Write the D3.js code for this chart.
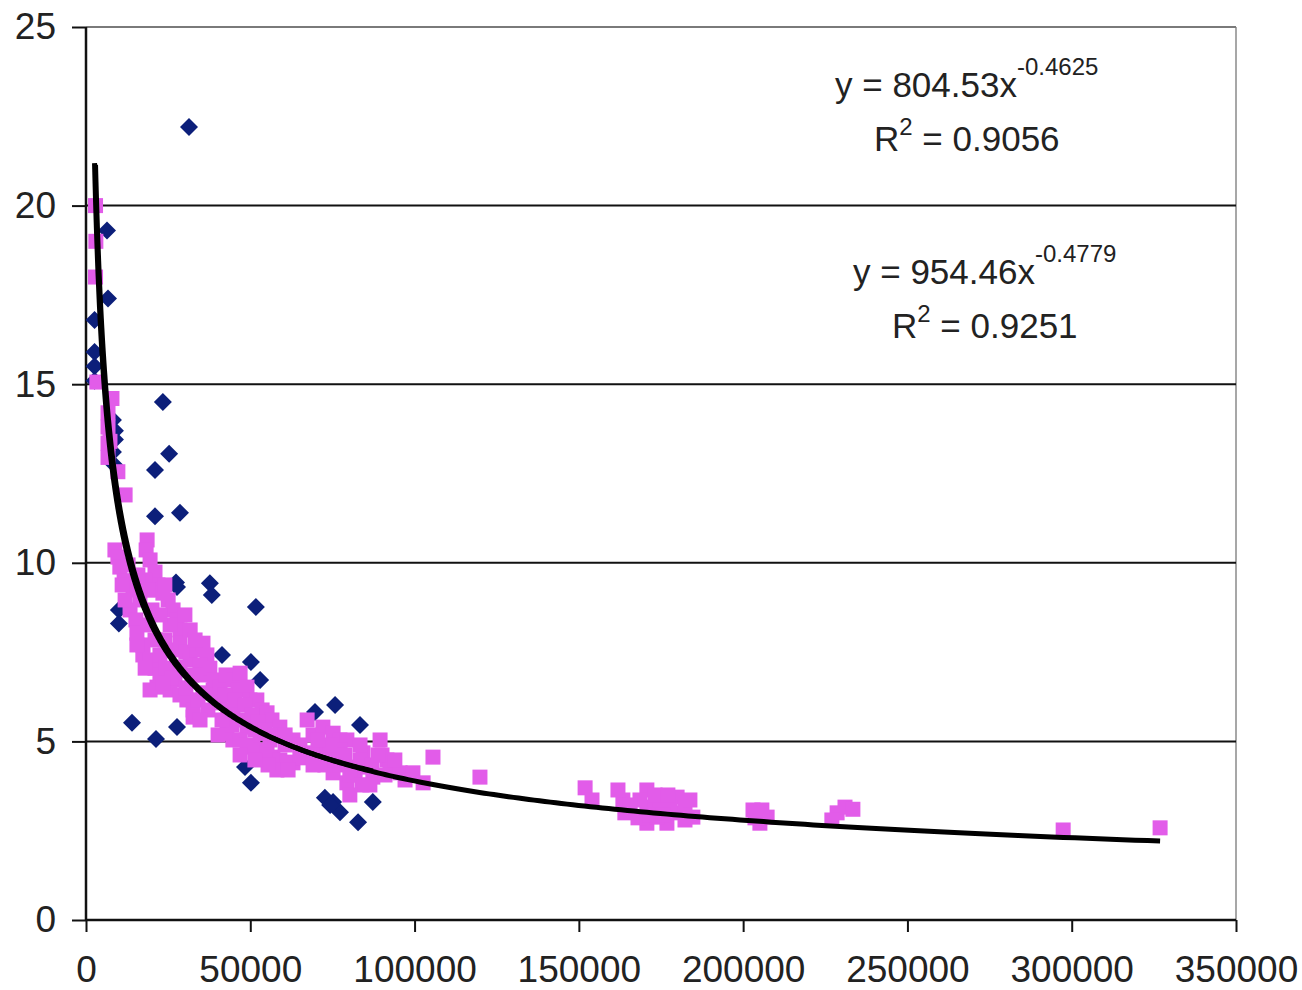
<!DOCTYPE html>
<html lang="en">
<head>
<meta charset="UTF-8">
<title>Power trend scatter</title>
<script src="https://cdn.jsdelivr.net/npm/d3@7"></script>
<style>
  body { margin: 0; background: #fff; }
  text { font-family: "Liberation Sans", Arial, sans-serif; fill: #222; }
</style>
</head>
<body>
<div id="chart"></div>
<script>
// series 1 (blue diamonds): [x, y]
const blueSeries = [
  [31350, 22.2], [6400, 19.3], [6700, 17.4], [2600, 16.8], [2600, 15.9], [2600, 15.5], [2600, 15.1],
  [8200, 14.0], [8800, 13.7], [8800, 13.45], [8200, 13.1], [8500, 12.75],
  [23400, 14.5], [25300, 13.05], [21000, 12.6], [21000, 11.3], [28600, 11.4],
  [27400, 9.45], [27700, 9.32], [37700, 9.43], [38300, 9.1], [51700, 8.76],
  [10000, 8.68], [10000, 8.3], [41400, 7.42], [50200, 7.22], [53000, 6.72],
  [14000, 5.52], [21300, 5.07], [27700, 5.4], [69700, 5.82], [75800, 6.02], [83400, 5.46],
  [48400, 4.28], [50200, 3.84], [72700, 3.42], [75200, 3.3], [77300, 3.02], [74300, 3.22],
  [87300, 3.3], [82800, 2.74]
];

// series 2 (magenta squares): [x, y]
const magentaSeries = [
  [2900, 20.0], [3000, 19.0], [2900, 18.0], [3300, 15.06], [7900, 14.6], [6700, 14.2], [6700, 13.8],
  [6700, 13.35], [6700, 12.95], [7300, 13.4], [9700, 12.55], [11900, 11.9],
  [8800, 10.36], [9700, 10.16], [10300, 9.88], [11600, 9.5], [18600, 10.64], [18300, 10.36],
  [19500, 10.08], [21000, 9.74], [21900, 9.38], [20100, 9.24], [18000, 9.52], [16400, 8.96],
  [13400, 8.68], [15200, 8.4], [15500, 8.03], [17300, 7.7], [17300, 7.42], [19500, 7.28],
  [21000, 7.05], [22500, 6.86], [21600, 6.52], [19500, 6.44], [23400, 9.15], [25000, 8.96],
  [26500, 8.68], [27700, 8.4], [28600, 8.12], [25600, 8.26], [22500, 8.54], [24000, 7.84],
  [26200, 7.56], [28600, 7.75], [30400, 7.5], [31700, 7.28], [33800, 7.56], [35600, 7.75],
  [36800, 7.42], [34700, 7.14], [34700, 6.86], [28600, 7.08], [27100, 6.72], [25600, 6.44],
  [28600, 6.3], [30700, 6.16], [32600, 5.88], [32600, 5.68], [35600, 6.36], [34100, 6.16],
  [12800, 9.94], [14300, 9.24], [15800, 9.66], [18900, 9.24], [20100, 8.68], [18900, 8.26],
  [21000, 7.84], [22500, 7.42], [24300, 7.05], [26200, 6.78], [30400, 6.5], [32300, 6.86],
  [37700, 7.05], [38700, 6.44], [37100, 5.88], [34700, 5.6], [23400, 6.63], [18000, 7.05],
  [15500, 7.7], [11900, 8.96], [11000, 9.38], [24000, 9.38], [30100, 8.54], [31700, 8.12],
  [33200, 7.84],
  [39000, 6.72], [40800, 6.52], [42600, 6.86], [44700, 6.72], [46900, 6.91], [46300, 6.44],
  [49000, 6.52], [49900, 6.16], [52000, 6.16], [53600, 5.88], [55100, 5.8], [56600, 5.6],
  [59000, 5.4], [40800, 6.08], [43200, 5.88], [44700, 5.8], [46900, 5.6], [49000, 5.4],
  [51400, 5.32], [42900, 5.23], [44700, 5.04], [46900, 5.04], [49000, 4.9], [50800, 4.84],
  [53000, 4.76], [55100, 4.68], [56900, 4.56], [59000, 4.48], [61200, 4.42], [63000, 4.4],
  [56000, 5.04], [60600, 4.9], [63000, 5.04], [58100, 4.2], [53000, 5.23],
  [42300, 6.3], [45300, 6.16], [48400, 6.02], [50500, 5.74], [52300, 5.54], [54500, 5.32],
  [57500, 5.18], [60600, 5.18], [65100, 4.9], [65100, 4.54], [61500, 4.2], [55400, 4.34],
  [51400, 4.48], [46900, 4.62], [44400, 5.46], [41400, 5.6], [40200, 5.18],
  [67300, 5.6], [69100, 5.18], [72100, 5.4], [75200, 5.23], [77300, 5.04], [79400, 5.04],
  [69100, 4.68], [71200, 4.4], [73300, 4.68], [75200, 4.12], [77300, 4.76], [77300, 4.34],
  [79400, 3.84], [81300, 4.28], [84300, 4.68], [85500, 4.28], [87300, 4.0], [89500, 5.04],
  [90100, 4.62], [91600, 4.48], [92500, 4.2], [95600, 4.12], [99500, 4.12], [102600, 3.84],
  [105600, 4.56], [119900, 4.0], [83400, 4.9], [74300, 4.9], [81900, 4.06], [86400, 3.78],
  [70600, 5.04], [72700, 4.34], [75800, 4.48], [78800, 4.62], [80300, 4.06], [83400, 4.48],
  [84000, 3.78], [87000, 4.34], [88900, 4.62], [91000, 4.06], [94000, 4.48], [97100, 3.92],
  [80300, 3.5], [69100, 4.34],
  [151900, 3.7], [154000, 3.36], [163400, 3.36], [164000, 3.0], [170700, 3.64], [170700, 3.16],
  [170700, 2.71], [174700, 3.28], [176800, 2.71], [179900, 3.44], [179900, 3.0], [173800, 2.88],
  [184700, 2.88], [168600, 3.36], [173200, 3.5], [177700, 3.14], [182300, 3.14],
  [161900, 3.64], [165600, 3.22], [168000, 2.86], [171700, 2.94], [175600, 2.94], [177100, 3.5],
  [182300, 2.8], [183800, 3.36],
  [203000, 3.08], [205100, 2.71], [207300, 2.88], [203600, 2.86], [205700, 3.08],
  [228600, 3.0], [231000, 3.16], [233400, 3.1], [227000, 2.8],
  [297400, 2.52], [326900, 2.58]
];

// trendline equations as printed on the chart: y = a * x^b
const trendBlue = { a: 804.53, b: -0.4625, r2: "0.9056" };
const trendMagenta = { a: 954.46, b: -0.4779, r2: "0.9251" };

const xTicks = [0, 50000, 100000, 150000, 200000, 250000, 300000, 350000];
const yTicks = [0, 5, 10, 15, 20, 25];

const W = 1302, H = 990;
const margin = { top: 27, right: 66, bottom: 70, left: 86 };
const iw = W - margin.left - margin.right;
const ih = H - margin.top - margin.bottom;

const svg = d3.select("#chart").append("svg")
  .attr("width", W).attr("height", H);

const g = svg.append("g")
  .attr("transform", `translate(${margin.left},${margin.top})`);

const x = d3.scaleLinear().domain([0, 350000]).range([0, iw]);
const y = d3.scaleLinear().domain([0, 25]).range([ih, 0]);

// right border
g.append("line")
  .attr("x1", iw).attr("x2", iw).attr("y1", 0).attr("y2", ih)
  .attr("stroke", "#8a8a8a").attr("stroke-width", 1.5);

// horizontal gridlines
g.selectAll(".grid").data(yTicks.filter(d => d > 0)).enter()
  .append("line")
  .attr("x1", 0).attr("x2", iw)
  .attr("y1", d => y(d)).attr("y2", d => y(d))
  .attr("stroke", d => d === 25 ? "#7a7a7a" : "#111")
  .attr("stroke-width", 2);

// axes
const yAxis = g.append("g")
  .call(d3.axisLeft(y).tickValues(yTicks).tickSize(14).tickPadding(16).tickFormat(d3.format("d")));
const xAxis = g.append("g")
  .attr("transform", `translate(0,${ih})`)
  .call(d3.axisBottom(x).tickValues(xTicks).tickSize(12).tickPadding(24).tickFormat(d3.format("d")));

[yAxis, xAxis].forEach(a => {
  a.select(".domain").attr("stroke", "#111").attr("stroke-width", 2.5);
  a.selectAll(".tick line").attr("stroke", "#111").attr("stroke-width", 2);
  a.selectAll(".tick text")
    .attr("font-family", '"Liberation Sans", Arial, sans-serif')
    .attr("font-size", 37).attr("fill", "#222");
});
xAxis.select(".domain").attr("d", `M0,0H${iw}`);
yAxis.select(".domain").attr("d", `M0,0V${ih}`);

// blue diamonds
const dia = 9;
g.selectAll(".blue").data(blueSeries).enter()
  .append("path")
  .attr("d", `M0,${-dia}L${dia},0L0,${dia}L${-dia},0Z`)
  .attr("transform", d => `translate(${x(d[0])},${y(d[1])})`)
  .attr("fill", "#0c1f7a");

// magenta squares
const sq = 15;
g.selectAll(".mag").data(magentaSeries).enter()
  .append("rect")
  .attr("x", d => x(d[0]) - sq / 2)
  .attr("y", d => y(d[1]) - sq / 2)
  .attr("width", sq).attr("height", sq)
  .attr("fill", "#e25ce9");

// power trendlines over each series' x range
function trendPath(series, t) {
  const ext = d3.extent(series, d => d[0]);
  const steps = 400;
  const pts = d3.range(steps + 1).map(i => {
    const xv = ext[0] * Math.pow(ext[1] / ext[0], i / steps);
    return [xv, t.a * Math.pow(xv, t.b)];
  });
  return d3.line().x(d => x(d[0])).y(d => y(d[1]))(pts);
}
g.append("path").attr("d", trendPath(blueSeries, trendBlue))
  .attr("fill", "none").attr("stroke", "#000").attr("stroke-width", 5);
g.append("path").attr("d", trendPath(magentaSeries, trendMagenta))
  .attr("fill", "none").attr("stroke", "#000").attr("stroke-width", 5);

// equation labels
function equation(t, ex, ey, rx, ry) {
  const e = svg.append("text").attr("x", ex).attr("y", ey).attr("font-size", 35);
  e.append("tspan").text(`y = ${t.a}x`);
  e.append("tspan").attr("dy", -22).attr("font-size", 24).text(t.b);
  const r = svg.append("text").attr("x", rx).attr("y", ry).attr("font-size", 35);
  r.append("tspan").text("R");
  r.append("tspan").attr("dy", -16).attr("font-size", 24).text("2");
  r.append("tspan").attr("dy", 16).text(` = ${t.r2}`);
}
equation(trendBlue, 835, 97, 874, 151);
equation(trendMagenta, 853, 284, 892, 338);
</script>
</body>
</html>
